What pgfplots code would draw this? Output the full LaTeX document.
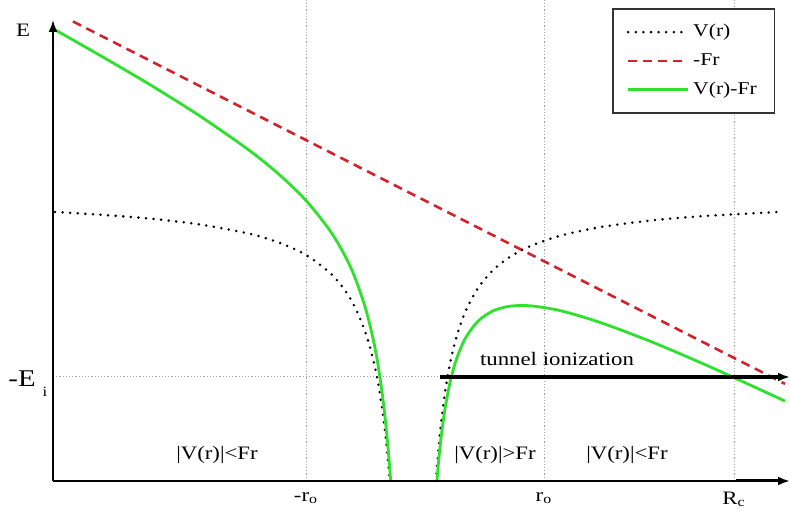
\documentclass[border=0pt]{standalone}
\usepackage{fontspec}
\setmainfont{Liberation Serif}[FakeStretch=1.2]
\usepackage{pgfplots}
\pgfplotsset{compat=1.18}
\usetikzlibrary{arrows.meta}
\definecolor{vgreen}{RGB}{45,225,45}
\definecolor{vred}{RGB}{210,35,45}
\begin{document}
\begin{tikzpicture}
\begin{axis}[
  scale only axis, width=368.5pt, height=230.5pt,
  xmin=53, xmax=790, ymin=0, ymax=461,
  enlargelimits=false, clip=false,
  axis x line=bottom, axis y line=left,
  axis line style={draw=none},
  ytick=\empty,
  xtick={306,544,734},
  xticklabels={-r\textsubscript{o}, r\textsubscript{o}, R\textsubscript{c}},
  major tick length=0pt,
  xticklabel style={font=\fontsize{9.5}{11}\selectfont, yshift=-2pt},
  legend style={at={(axis cs:612,473)}, anchor=north west, draw=black!80, line width=0.8pt,
    fill=white, font=\fontsize{9}{10.5}\selectfont, row sep=3.2pt, inner xsep=7pt, inner ysep=6pt,
    nodes={inner sep=1.8pt}},
  legend cell align=left,
  legend image code/.code={\draw[#1] (0pt,0pt) -- (30pt,0pt);},
]
% grid lines
\addplot[forget plot, gray!70, line width=0.5pt, dash pattern=on 0.6pt off 1pt] coordinates {(306,0) (306,481)};
\addplot[forget plot, gray!70, line width=0.5pt, dash pattern=on 0.6pt off 1pt] coordinates {(544,0) (544,481)};
\addplot[forget plot, gray!70, line width=0.5pt, dash pattern=on 0.6pt off 1pt] coordinates {(734,0) (734,481)};
\addplot[forget plot, gray!70, line width=0.5pt, dash pattern=on 0.6pt off 1pt] coordinates {(53,104) (440,104)};

% V(r)
\addplot[black, line width=1.4pt, line cap=round, dash pattern=on 0pt off 3.8pt, smooth] coordinates {
(55,269.0) (100,266.3) (150,262.4) (200,256.5) (250,247.1) (280,238.0) (306,226.0) (330,208.1)
(345,190.6) (355,173.8) (365,149.9) (372,126.2) (377,104.0) (381,80.2) (384,58.4) (387,31.4) (389.8,0)};
\addlegendentry{V(r)}
% -Fr
\addplot[vred, line width=1.3pt, dash pattern=on 4.5pt off 3pt] coordinates {(73,459.5) (785,97.1)};
\addlegendentry{-Fr}
% V(r)-Fr
\addplot[vgreen, line width=1.4pt, smooth] coordinates {
(55,451.2) (100,425.6) (150,396.3) (200,364.9) (250,330.1) (280,305.7) (306,280.5) (330,250.3)
(345,225.2) (355,203.3) (365,174.3) (372,147.1) (377,122.3) (381,96.5) (384,73.1) (387,44.6)
(389,21.9) (390.7,0)};
\addlegendentry{V(r)-Fr}

\addplot[forget plot, black, line width=1.4pt, line cap=round, dash pattern=on 0pt off 3.8pt, smooth] coordinates {
(436,0) (438,26.1) (441,57.1) (445,88.5) (450,117.3) (456,142.4) (465,168.6) (478,192.9)
(493,210.8) (510,224.2) (530,234.8) (560,245.2) (600,253.8) (650,260.4) (700,264.7) (778,269)};
\addplot[forget plot, vgreen, line width=1.4pt, smooth] coordinates {
(437,0) (438,13.4) (441,42.8) (445,72.2) (450,98.5) (456,120.5) (465,142.1) (478,159.8)
(493,170.1) (510,174.8) (530,175.2) (560,170.4) (600,158.6) (650,139.8) (700,118.6)
(740,100.6) (785,79.9)};

% axes
\draw[line width=1pt, -{Latex[length=6pt,width=4.5pt]}] (axis cs:53,0) -- (axis cs:53,461);
\draw[line width=1pt] (axis cs:53,0) -- (axis cs:740,0);
\draw[line width=1.5pt, -{Latex[length=6pt,width=4.5pt]}] (axis cs:736,0) -- (axis cs:790,0);
% tunnel arrow
\draw[line width=1.6pt, -{Latex[length=6pt,width=4.5pt]}] (axis cs:440,104) -- (axis cs:790,104);

% labels
\node[font=\fontsize{9.5}{11}\selectfont] at (axis cs:23,451) {E};
\node[font=\fontsize{12}{13}\selectfont, anchor=east, inner sep=0pt] at (axis cs:36,102) {-E};
\node[font=\fontsize{7}{8}\selectfont, inner sep=0pt] at (axis cs:45,89) {i};
\node[font=\fontsize{9.5}{11}\selectfont] at (axis cs:217,26) {|V(r)|<Fr};
\node[font=\fontsize{9.5}{11}\selectfont] at (axis cs:495,26) {|V(r)|>Fr};
\node[font=\fontsize{9.5}{11}\selectfont] at (axis cs:627,26) {|V(r)|<Fr};
\node[font=\fontsize{9.5}{11}\selectfont] at (axis cs:557,122) {tunnel ionization};

\coordinate (bl) at (axis cs:0,-36);
\coordinate (tr) at (axis cs:790,481);
\end{axis}
\pgfresetboundingbox
\useasboundingbox (bl) rectangle (tr);
\end{tikzpicture}
\end{document}
